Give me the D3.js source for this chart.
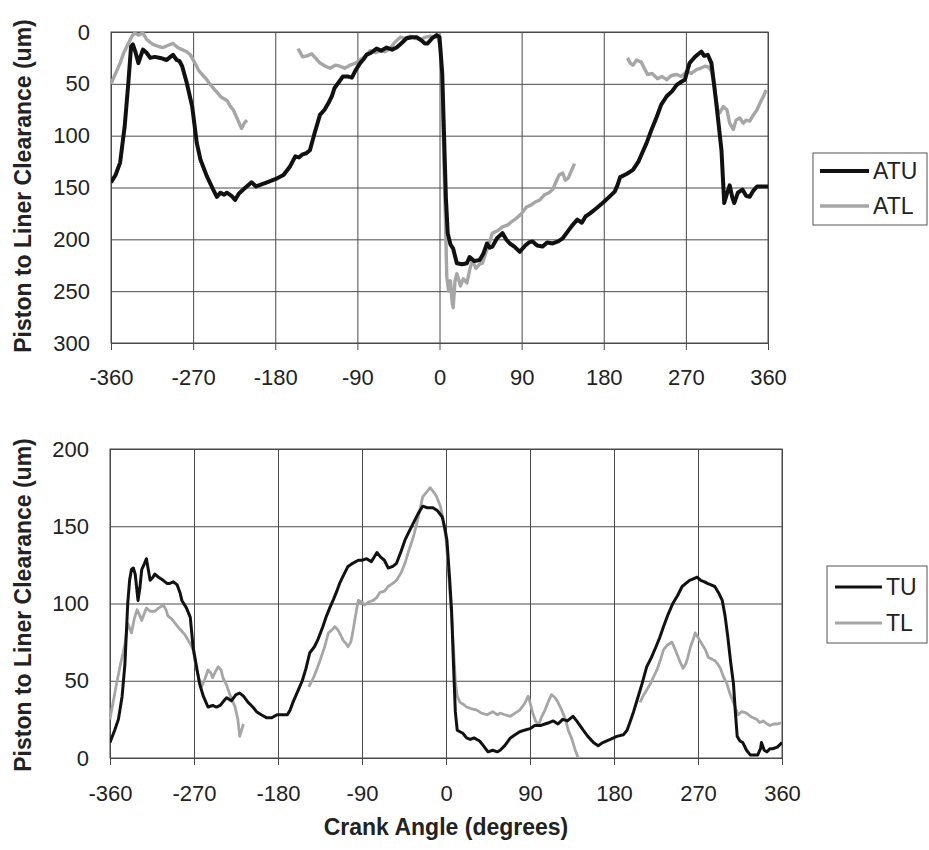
<!DOCTYPE html>
<html>
<head>
<meta charset="utf-8">
<script src="https://cdn.jsdelivr.net/npm/d3@7"></script>
<style>
  body { margin: 0; background: #fff; }
  text { font-family: "Liberation Sans", Arial, sans-serif; fill: #222; }
</style>
</head>
<body>
<svg id="chart" width="929" height="850"></svg>
<script>
const angleTicks = [-360, -270, -180, -90, 0, 90, 180, 270, 360];
const topTicks = [0, 50, 100, 150, 200, 250, 300];
const bottomTicks = [0, 50, 100, 150, 200];

// [crank angle, clearance um]; null marks a gap in the trace
const atu = [
  [-360,145],[-355,138],[-350,126],[-345,91],[-341,49],[-338,14],[-336,12],[-333,20],[-330,30],[-327,22],
  [-325,17],[-321,20],[-317,25],[-312,24],[-306,25],[-299,27],[-295,24],[-292,22],[-288,27],[-285,28],
  [-282,33],[-277,49],[-271,72],[-266,107],[-262,123],[-255,139],[-248,152],[-244,159],[-240,155],[-236,157],
  [-233,155],[-228,158],[-224,162],[-220,156],[-215,152],[-210,148],[-206,145],[-201,149],[-195,147],[-189,145],
  [-180,142],[-171,138],[-164,130],[-158,120],[-154,121],[-150,118],[-146,117],[-142,114],[-137,98],[-131,80],
  [-126,75],[-122,69],[-118,62],[-115,54],[-110,48],[-106,43],[-100,43],[-96,44],[-92,37],[-87,30],
  [-83,26],[-80,22],[-75,20],[-69,16],[-64,18],[-58,15],[-52,17],[-47,15],[-42,11],[-36,6],
  [-30,5],[-25,5],[-20,8],[-16,11],[-13,11],[-8,6],[-3,3],[0,5],[3,40],[5,100],
  [7,160],[9,194],[12,205],[15,209],[17,216],[19,223],[25,224],[30,223],[33,217],[38,221],
  [44,220],[48,214],[52,204],[55,208],[58,207],[63,199],[69,194],[73,200],[77,204],[82,207],
  [88,212],[94,206],[98,203],[102,202],[107,206],[113,207],[118,203],[124,204],[130,202],[135,199],
  [140,193],[146,186],[151,181],[156,184],[160,178],[165,175],[172,170],[180,164],[186,159],[192,154],
  [195,148],[198,140],[205,137],[212,133],[218,125],[222,117],[227,107],[232,95],[238,82],[243,70],
  [249,62],[255,57],[260,51],[265,48],[269,46],[272,36],[274,30],[277,27],[280,24],[284,21],
  [287,19],[290,23],[294,22],[298,30],[303,66],[306,90],[309,114],[312,165],[315,156],[318,148],
  [321,160],[323,165],[327,155],[332,152],[336,158],[340,159],[344,153],[348,149],[353,149],[360,149]
];

const atl = [
  [-360,50],[-358,46],[-354,38],[-350,30],[-346,20],[-341,11],[-337,4],[-334,1],[-330,3],[-325,1],
  [-321,7],[-317,10],[-314,12],[-308,14],[-303,15],[-298,13],[-292,11],[-287,15],[-282,17],[-277,19],
  [-273,22],[-268,30],[-264,37],[-259,42],[-255,46],[-250,52],[-244,58],[-239,63],[-233,66],[-229,72],
  [-226,75],[-222,83],[-217,93],[-214,88],[-211,85],
  [-183,null],
  [-155,16],[-150,24],[-145,23],[-140,21],[-135,26],[-131,30],[-125,33],[-120,35],[-114,32],[-109,33],
  [-104,35],[-98,32],[-92,30],[-87,27],[-82,24],[-76,18],[-70,20],[-65,18],[-60,19],[-54,16],
  [-49,10],[-43,5],[-38,6],[-32,4],[-27,6],[-21,7],[-15,5],[-10,4],[-5,5],[-2,4],
  [1,15],[3,60],[5,130],[7,200],[8,236],[10,250],[12,240],[14,262],[15,266],[17,240],
  [19,233],[23,245],[26,238],[30,242],[33,230],[36,220],[40,228],[44,224],[47,223],[52,210],
  [58,194],[63,192],[69,188],[75,186],[79,183],[84,180],[90,175],[95,169],[100,167],[105,164],
  [110,162],[115,157],[120,155],[124,152],[128,144],[131,138],[135,136],[138,143],[141,141],[145,133],
  [148,127],
  [178,null],
  [206,25],[209,30],[212,32],[216,27],[221,29],[225,36],[228,41],[233,40],[239,45],[244,43],
  [249,46],[254,42],[260,41],[265,43],[271,38],[276,40],[282,36],[286,35],[291,33],[295,34],
  [298,38],[301,50],[303,66],[305,75],[307,78],[311,72],[315,75],[318,88],[322,94],[325,85],
  [329,83],[333,88],[336,85],[340,86],[344,80],[348,75],[351,69],[355,62],[358,56]
];

const tu = [
  [-360,10],[-355,18],[-351,25],[-347,40],[-344,61],[-341,100],[-339,115],[-337,122],[-335,123],[-333,119],
  [-330,102],[-328,110],[-326,122],[-323,126],[-321,129],[-319,122],[-317,115],[-314,117],[-312,119],[-308,117],
  [-303,115],[-299,113],[-296,113],[-292,114],[-288,112],[-285,107],[-283,102],[-278,97],[-274,91],[-271,72],
  [-267,58],[-264,48],[-260,40],[-255,33],[-250,34],[-246,33],[-242,34],[-238,37],[-235,39],[-230,37],
  [-225,41],[-221,42],[-217,40],[-212,36],[-207,33],[-203,30],[-198,28],[-192,26],[-187,26],[-181,28],
  [-175,28],[-170,28],[-167,31],[-164,36],[-159,43],[-154,50],[-150,58],[-146,68],[-141,72],[-137,77],
  [-132,85],[-128,92],[-124,98],[-121,102],[-117,108],[-114,113],[-110,118],[-105,124],[-100,126],[-94,128],
  [-90,128],[-85,129],[-80,127],[-74,133],[-70,130],[-66,128],[-62,123],[-57,124],[-53,126],[-48,134],
  [-44,141],[-40,146],[-35,152],[-30,158],[-25,163],[-20,162],[-14,162],[-9,160],[-4,156],[-1,148],
  [1,141],[4,115],[6,95],[8,61],[10,30],[12,18],[15,17],[18,16],[22,13],[26,12],
  [30,13],[36,11],[40,8],[45,4],[50,5],[55,4],[58,5],[63,8],[69,13],[74,15],
  [79,17],[84,18],[90,19],[95,21],[101,21],[106,22],[111,23],[115,24],[120,22],[125,25],
  [130,24],[136,27],[140,24],[147,18],[152,14],[158,10],[163,8],[168,10],[176,12],[183,14],
  [190,15],[194,18],[197,23],[201,30],[205,38],[210,48],[215,59],[220,65],[225,72],[229,78],
  [233,85],[238,93],[243,100],[248,105],[253,111],[257,113],[261,115],[265,116],[269,117],[273,115],
  [277,114],[280,113],[284,112],[288,111],[292,107],[296,102],[299,92],[302,78],[305,62],[308,48],
  [310,30],[312,14],[315,11],[318,10],[322,5],[326,2],[330,2],[334,2],[337,6],[338,10],
  [341,5],[344,4],[347,6],[350,6],[355,7],[360,10]
];

const tl = [
  [-360,25],[-357,35],[-353,48],[-349,60],[-346,68],[-344,74],[-341,87],[-339,84],[-337,81],[-334,90],
  [-331,96],[-328,92],[-326,89],[-323,94],[-321,97],[-317,95],[-312,95],[-308,97],[-303,99],[-300,96],
  [-298,92],[-294,90],[-290,87],[-286,84],[-283,82],[-280,80],[-278,78],[-274,74],[-271,70],[-269,63],
  [-267,57],[-264,50],[-262,46],[-259,50],[-255,57],[-252,55],[-250,52],[-247,56],[-244,59],[-241,57],
  [-239,52],[-235,47],[-231,40],[-228,36],[-226,33],[-223,25],[-221,14],[-219,18],[-217,22],
  [-180,null],
  [-147,46],[-142,52],[-138,58],[-135,63],[-130,72],[-126,81],[-122,83],[-119,85],[-116,83],[-114,81],
  [-110,76],[-107,74],[-105,72],[-102,75],[-100,81],[-97,92],[-94,102],[-90,101],[-87,99],[-83,101],
  [-78,102],[-74,104],[-71,107],[-66,108],[-62,111],[-57,113],[-53,115],[-48,120],[-44,126],[-40,134],
  [-35,143],[-30,155],[-25,169],[-21,172],[-17,175],[-13,172],[-10,169],[-6,163],[-3,154],[0,142],
  [2,126],[4,108],[6,92],[8,72],[10,50],[12,40],[15,36],[18,35],[22,33],[27,32],
  [33,31],[38,29],[44,28],[50,30],[55,28],[58,29],[63,28],[69,27],[74,29],[79,31],
  [84,35],[88,40],[90,36],[93,29],[96,24],[99,21],[102,26],[106,31],[110,37],[113,41],
  [117,39],[120,36],[124,31],[128,25],[131,18],[135,12],[138,6],[141,1],[144,-3],
  [180,null],
  [208,36],[211,40],[215,44],[219,48],[222,52],[226,57],[230,64],[233,70],[237,73],[242,75],
  [245,71],[247,68],[251,62],[254,58],[257,61],[259,65],[262,72],[265,77],[267,81],[270,78],
  [274,74],[278,70],[281,65],[285,64],[288,63],[291,61],[294,58],[297,53],[301,48],[304,42],
  [308,36],[311,31],[313,28],[317,30],[322,29],[326,27],[329,26],[333,25],[336,23],[340,24],
  [344,22],[347,21],[351,22],[355,22],[360,23]
];

const svg = d3.select('#chart');

function panel(opt) {
  const x = d3.scaleLinear().domain([-360, 360]).range([opt.left, opt.right]);
  const y = d3.scaleLinear().domain(opt.yDomain).range([opt.bottom, opt.top]);
  const w = opt.right - opt.left;
  const h = opt.bottom - opt.top;
  const g = svg.append('g');

  // vertical grid + angle labels
  g.append('g')
    .attr('transform', `translate(0,${opt.bottom})`)
    .call(d3.axisBottom(x).tickValues(angleTicks).tickSize(-h).tickPadding(opt.xPad).tickFormat(d => String(d)))
    .call(a => a.select('.domain').remove())
    .call(a => a.selectAll('line').attr('stroke', '#4a4a4a'))
    .call(a => a.selectAll('text').attr('font-size', 22).attr('fill', '#222').attr('font-family', null));

  // little outward tick marks
  g.append('g')
    .attr('transform', `translate(0,${opt.bottom})`)
    .call(d3.axisBottom(x).tickValues(angleTicks).tickSize(7).tickFormat(''))
    .call(a => a.select('.domain').remove())
    .call(a => a.selectAll('line').attr('stroke', '#4a4a4a'));

  // horizontal grid + value labels
  g.append('g')
    .attr('transform', `translate(${opt.left},0)`)
    .call(d3.axisLeft(y).tickValues(opt.yTicks).tickSize(-w).tickPadding(21).tickFormat(d => String(d)))
    .call(a => a.select('.domain').remove())
    .call(a => a.selectAll('line').attr('stroke', '#4a4a4a'))
    .call(a => a.selectAll('text').attr('font-size', 22).attr('fill', '#222').attr('font-family', null));

  g.append('rect')
    .attr('x', opt.left).attr('y', opt.top)
    .attr('width', w).attr('height', h)
    .attr('fill', 'none').attr('stroke', '#4a4a4a');

  const clipId = 'clip' + opt.id;
  svg.append('clipPath').attr('id', clipId)
    .append('rect').attr('x', opt.left).attr('y', opt.top).attr('width', w).attr('height', h);

  const line = d3.line()
    .defined(d => d[1] !== null)
    .x(d => x(d[0]))
    .y(d => y(d[1]));

  // grey trace first, black on top
  opt.series.slice().reverse().forEach(s => {
    g.append('path')
      .attr('clip-path', `url(#${clipId})`)
      .attr('d', line(s.data))
      .attr('fill', 'none')
      .attr('stroke', s.color)
      .attr('stroke-width', s.width)
      .attr('stroke-linejoin', 'round');
  });

  svg.append('text')
    .attr('transform', `translate(31,${opt.titleY}) rotate(-90)`)
    .attr('text-anchor', 'middle')
    .attr('font-size', 23)
    .attr('font-weight', 'bold')
    .text('Piston to Liner Clearance (um)');

  const lg = svg.append('g').attr('transform', `translate(${opt.legend.x},${opt.legend.y})`);
  lg.append('rect')
    .attr('width', opt.legend.w).attr('height', opt.legend.h)
    .attr('fill', '#fff').attr('stroke', '#555');
  opt.series.forEach((s, i) => {
    const ly = opt.legend.rowY[i];
    lg.append('line')
      .attr('x1', opt.legend.lineX[0]).attr('x2', opt.legend.lineX[1])
      .attr('y1', ly).attr('y2', ly)
      .attr('stroke', s.color).attr('stroke-width', s.width);
    lg.append('text')
      .attr('x', opt.legend.lineX[1] + 4).attr('y', ly)
      .attr('dy', '0.36em')
      .attr('font-size', 23)
      .text(s.name);
  });
}

panel({
  id: 'top',
  left: 111, right: 768, top: 32, bottom: 343,
  yDomain: [300, 0], yTicks: topTicks, xPad: 26, titleY: 186,
  series: [
    { name: 'ATU', data: atu, color: '#111', width: 4 },
    { name: 'ATL', data: atl, color: '#a6a6a6', width: 3.4 }
  ],
  legend: { x: 813, y: 153, w: 114, h: 72, rowY: [18, 53], lineX: [7, 56] }
});

panel({
  id: 'bottom',
  left: 110, right: 782, top: 449, bottom: 758,
  yDomain: [0, 200], yTicks: bottomTicks, xPad: 27, titleY: 605,
  series: [
    { name: 'TU', data: tu, color: '#111', width: 3 },
    { name: 'TL', data: tl, color: '#a6a6a6', width: 2.8 }
  ],
  legend: { x: 827, y: 566, w: 100, h: 77, rowY: [21, 57], lineX: [8, 55] }
});

svg.append('text')
  .attr('x', 446).attr('y', 835)
  .attr('text-anchor', 'middle')
  .attr('font-size', 23)
  .attr('font-weight', 'bold')
  .text('Crank Angle (degrees)');
</script>
</body>
</html>
